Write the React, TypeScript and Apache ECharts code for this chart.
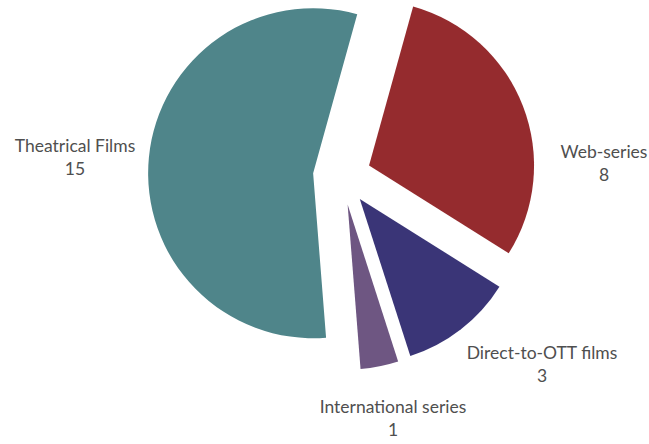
import React, { useEffect, useRef } from "react";
import * as echarts from "echarts";

const categories = ["Web-series", "Direct-to-OTT films", "International series", "Theatrical Films"];
const values = [8, 3, 1, 15];
const colors = ["#952B2E", "#3A3577", "#6E5682", "#4F858A"];
const labelPos: [number, number][] = [
  [604, 163],
  [542, 364],
  [393, 418],
  [75, 157],
];

export default function App() {
  const ref = useRef<HTMLDivElement>(null);
  useEffect(() => {
    document.body.style.margin = "0";
    const chart = echarts.init(ref.current!, null, { renderer: "svg" });
    const common = {
      type: "pie",
      center: [342, 176],
      radius: [0, 165],
      startAngle: 74.5,
      clockwise: true,
      avoidLabelOverlap: false,
      emphasis: { disabled: true },
      labelLine: { show: false },
    };
    chart.setOption({
      animation: false,
      backgroundColor: "#ffffff",
      series: [
        {
          ...common,
          selectedMode: "multiple",
          selectedOffset: 29,
          label: { show: false },
          data: categories.map((name, i) => ({
            name,
            value: values[i],
            selected: true,
            itemStyle: { color: colors[i] },
          })),
        },
        {
          ...common,
          silent: true,
          z: 3,
          itemStyle: { color: "rgba(0,0,0,0)" },
          label: {
            show: true,
            formatter: "{b}\n{c}",
            fontFamily: "Lato",
            fontSize: 17.5,
            lineHeight: 23,
            color: "#4f4f4f",
            align: "center",
          },
          labelLayout: (params: any) => {
            const p = labelPos[params.dataIndex];
            return { x: p[0], y: p[1], align: "center", verticalAlign: "middle" };
          },
          data: categories.map((name, i) => ({ name, value: values[i] })),
        },
      ],
    });
    return () => chart.dispose();
  }, []);
  return <div ref={ref} style={{ position: "absolute", left: 0, top: 0, width: 649, height: 444 }} />;
}
